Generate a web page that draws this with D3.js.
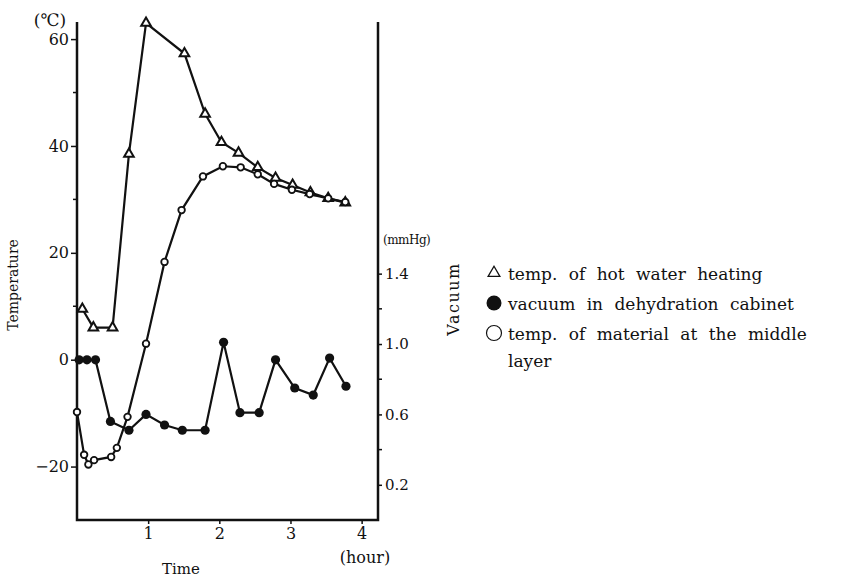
<!DOCTYPE html>
<html>
<head>
<meta charset="utf-8">
<script src="https://cdn.jsdelivr.net/npm/d3@7"></script>
<style>
  body { margin: 0; background: #fff; }
  svg text { font-family: "DejaVu Serif", "Liberation Serif", serif; fill: #111; }
</style>
</head>
<body>
<svg id="chart" width="851" height="579"></svg>
<script>
// time (hour) and temperature (C) of hot water heating
const hotTime = [0.075, 0.23, 0.5, 0.73, 0.97, 1.51, 1.8, 2.03, 2.27, 2.54, 2.79, 3.03, 3.28, 3.53, 3.77]
const hotTemp = [9.5, 6, 6, 38.5, 63, 57.3, 46, 40.7, 38.7, 36, 34, 32.7, 31.3, 30.2, 29.4]

// vacuum in dehydration cabinet (mmHg)
const vacTime = [0.03, 0.14, 0.26, 0.47, 0.73, 0.97, 1.23, 1.48, 1.8, 2.06, 2.29, 2.56, 2.79, 3.06, 3.32, 3.55, 3.78]
const vacValue = [0.91, 0.91, 0.91, 0.56, 0.51, 0.6, 0.54, 0.51, 0.51, 1.01, 0.61, 0.61, 0.91, 0.75, 0.71, 0.92, 0.76]

// temperature of material at the middle layer (C)
const matTime = [0.0, 0.1, 0.16, 0.24, 0.48, 0.56, 0.71, 0.97, 1.23, 1.47, 1.77, 2.05, 2.3, 2.54, 2.77, 3.02, 3.27, 3.53, 3.77]
const matTemp = [-9.8, -17.8, -19.6, -18.8, -18.2, -16.5, -10.7, 3, 18.3, 28, 34.3, 36.2, 36, 34.7, 32.9, 31.8, 31, 30.2, 29.5]

const timeTicks = [1, 2, 3, 4]
const tempTicks = [-20, 0, 20, 40, 60]
const tempMinor = [-10, 10, 30, 50]
const vacTicks = [0.2, 0.6, 1.0, 1.4]
const vacMinor = [0.4, 0.8, 1.2]

const legendLabels = [
  'temp. of hot water heating',
  'vacuum in dehydration cabinet',
  'temp. of material at the middle'
]

const svg = d3.select('#chart')
const plotL = 77, plotR = 378, plotT = 22, plotB = 520

const x = d3.scaleLinear().domain([0, 4.23]).range([plotL, plotR])
const yT = d3.scaleLinear().domain([-30, 63.2]).range([plotB, plotT])
const yV = d3.scaleLinear().domain([0, 2.83]).range([plotB, plotT])

// frame lines
const frame = svg.append('g').attr('stroke', '#111').attr('stroke-width', 2.5).attr('fill', 'none')
frame.append('path').attr('d', `M${plotL},${plotT}V${plotB}H${plotR}V${plotT}`)

// left axis
const axL = svg.append('g').attr('transform', `translate(${plotL},0)`)
  .call(d3.axisLeft(yT).tickValues(tempTicks).tickSize(6).tickFormat(d => d < 0 ? '\u2212' + (-d) : d))
axL.select('.domain').remove()
axL.selectAll('line').attr('stroke', '#111').attr('stroke-width', 1.5)
axL.selectAll('text').attr('font-size', 16).attr('dx', 1).style('font-family', '"DejaVu Serif", serif')
svg.append('g').selectAll('line').data(tempMinor).join('line')
  .attr('x1', plotL - 4).attr('x2', plotL).attr('y1', d => yT(d)).attr('y2', d => yT(d))
  .attr('stroke', '#111').attr('stroke-width', 1.5)

// bottom axis
const axB = svg.append('g').attr('transform', `translate(0,${plotB})`)
  .call(d3.axisBottom(x).tickValues(timeTicks).tickSize(4).tickPadding(4).tickFormat(d3.format('d')))
axB.select('.domain').remove()
axB.selectAll('line').attr('stroke', '#111').attr('stroke-width', 1.5)
axB.selectAll('text').attr('font-size', 16).style('font-family', '"DejaVu Serif", serif')

// right axis
const axR = svg.append('g').attr('transform', `translate(${plotR},0)`)
  .call(d3.axisRight(yV).tickValues(vacTicks).tickSize(4).tickPadding(3).tickFormat(d3.format('.1f')))
axR.select('.domain').remove()
axR.selectAll('line').attr('stroke', '#111').attr('stroke-width', 1.5)
axR.selectAll('text').attr('font-size', 15).style('font-family', '"DejaVu Serif", serif')
svg.append('g').selectAll('line').data(vacMinor).join('line')
  .attr('x1', plotR).attr('x2', plotR + 4).attr('y1', d => yV(d)).attr('y2', d => yV(d))
  .attr('stroke', '#111').attr('stroke-width', 1.5)

// axis titles
svg.append('text').attr('x', 50).attr('y', 26).attr('text-anchor', 'middle').attr('font-size', 17).text('(\u2103)')
svg.append('text').attr('transform', 'translate(18,285) rotate(-90)').attr('text-anchor', 'middle')
  .attr('font-size', 14).text('Temperature')
svg.append('text').attr('x', 181).attr('y', 574).attr('text-anchor', 'middle').attr('font-size', 15).text('Time')
svg.append('text').attr('x', 365).attr('y', 563).attr('text-anchor', 'middle').attr('font-size', 16).text('(hour)')
svg.append('text').attr('x', 383).attr('y', 244).attr('font-size', 12).attr('letter-spacing', -0.5).text('(mmHg)')
svg.append('text').attr('transform', 'translate(459,299) rotate(-90)').attr('text-anchor', 'middle')
  .attr('font-size', 16).attr('letter-spacing', 1.5).text('Vacuum')

// series
const hot = hotTime.map((t, i) => [t, hotTemp[i]])
const vac = vacTime.map((t, i) => [t, vacValue[i]])
const mat = matTime.map((t, i) => [t, matTemp[i]])

const lineT = d3.line().x(d => x(d[0])).y(d => yT(d[1]))
const lineV = d3.line().x(d => x(d[0])).y(d => yV(d[1]))

const lines = svg.append('g').attr('fill', 'none').attr('stroke', '#111').attr('stroke-width', 2.2)
lines.append('path').attr('d', lineT(hot))
lines.append('path').attr('d', lineV(vac))
lines.append('path').attr('d', lineT(mat))

const tri = d3.symbol().type(d3.symbolTriangle).size(40)
svg.append('g').selectAll('path').data(hot).join('path')
  .attr('d', tri).attr('transform', d => `translate(${x(d[0])},${yT(d[1])})`)
  .attr('fill', '#fff').attr('stroke', '#111').attr('stroke-width', 2)

svg.append('g').selectAll('circle').data(vac).join('circle')
  .attr('cx', d => x(d[0])).attr('cy', d => yV(d[1])).attr('r', 4.6).attr('fill', '#111')

svg.append('g').selectAll('circle').data(mat).join('circle')
  .attr('cx', d => x(d[0])).attr('cy', d => yT(d[1])).attr('r', 3.3)
  .attr('fill', '#fff').attr('stroke', '#111').attr('stroke-width', 1.8)

// legend
const lg = svg.append('g')
const rowY = [274, 304, 334]
lg.append('path').attr('d', d3.symbol().type(d3.symbolTriangle).size(60))
  .attr('transform', `translate(494,${rowY[0] - 1})`).attr('fill', 'none').attr('stroke', '#111').attr('stroke-width', 1.3)
lg.append('circle').attr('cx', 494).attr('cy', rowY[1] - 1).attr('r', 7.5).attr('fill', '#111')
lg.append('circle').attr('cx', 494).attr('cy', rowY[2] - 1).attr('r', 7.5).attr('fill', 'none').attr('stroke', '#111').attr('stroke-width', 1.2)
lg.selectAll('text.lab').data(legendLabels).join('text').attr('class', 'lab')
  .attr('x', 508).attr('y', (d, i) => rowY[i] + 6).attr('font-size', 17).attr('word-spacing', 6).text(d => d)
lg.append('text').attr('x', 508).attr('y', 367).attr('font-size', 17).text('layer')
</script>
</body>
</html>
